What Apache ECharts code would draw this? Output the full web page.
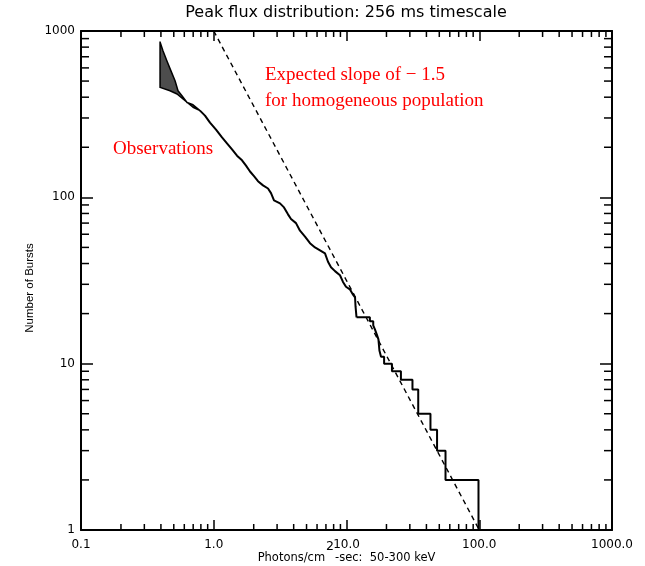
<!DOCTYPE html>
<html>
<head>
<meta charset="utf-8">
<script src="https://cdn.jsdelivr.net/npm/echarts@6/dist/echarts.min.js"></script>
<style>
  html, body { margin: 0; padding: 0; background: #fff; }
  #chart { width: 645px; height: 566px; }
</style>
</head>
<body>
<div id="chart"></div>
<script>
// Integral peak-flux distribution N(>S) on the 256 ms timescale

const xTickLabels = ['0.1', '1.0', '10.0', '100.0', '1000.0'];
const yTickLabels = ['1', '10', '100', '1000'];

// Observed counts where the burst population is dense (many tiny steps, traced as a path)
const obsFluxDense = [0.788, 0.859, 0.937, 1.04, 1.154, 1.258, 1.373, 1.497, 1.633, 1.75,
                      1.876, 2.01, 2.154, 2.35, 2.563, 2.70, 2.844, 3.156, 3.382, 3.625,
                      3.819, 4.165, 4.464, 4.869, 5.309, 5.79, 6.317, 6.887, 7.255, 7.643,
                      8.19, 8.93, 9.41, 9.91, 10.6, 11.2, 11.6, 11.7, 11.9];
const obsCountDense = [332, 310, 281, 255, 229, 211, 194, 178, 167, 155,
                       143, 134, 125, 118, 113, 106, 96, 92, 87, 79,
                       74, 70, 63, 58, 53, 50, 48, 46, 41, 38,
                       36, 34, 31, 29, 28, 26, 25, 22, 19];

// Brightest bursts: flux where each count level begins, held up to the next flux
const obsFluxBright  = [11.9, 15.0, 15.9, 16.4, 16.9, 17.4, 17.7, 18.2, 19.2, 22.0,
                        25.7, 31.4, 34.7, 42.9, 48.1, 55.7, 98.7];
const obsCountBright = [19, 18, 17, 16, 15, 14, 12, 11, 10, 9,
                        8, 7, 5, 4, 3, 2, 1];

// Shaded range near the trigger threshold (upper and lower bounds)
const bandUpperFlux  = [0.394, 0.415, 0.444, 0.476, 0.511, 0.538, 0.576, 0.629, 0.698, 0.788];
const bandUpperCount = [859, 759, 661, 576, 502, 437, 408, 372, 360, 332];
const bandLowerFlux  = [0.394, 0.468, 0.529, 0.587, 0.698, 0.788];
const bandLowerCount = [458, 437, 418, 390, 348, 332];

// Homogeneous Euclidean population, slope -1.5
const slopeFlux  = [1, 100];
const slopeCount = [1000, 1];

// Minor tick positions (2..9 within each decade)
const minorX = [];
[0.1, 1, 10, 100].forEach(d => { for (let m = 2; m <= 9; m++) minorX.push(+(d * m).toPrecision(3)); });
const minorY = [];
[1, 10, 100].forEach(d => { for (let m = 2; m <= 9; m++) minorY.push(d * m); });

const AXIS_FONT = 'DejaVu Sans';
const BLACK = '#000';
const RED = '#ff0000';

function xLabel(v) {
  const i = Math.round(Math.log10(v)) + 1;
  return xTickLabels[i] !== undefined ? xTickLabels[i] : '';
}
function yLabel(v) {
  const i = Math.round(Math.log10(v));
  return yTickLabels[i] !== undefined ? yTickLabels[i] : '';
}

const baseX = {
  type: 'log', logBase: 10, min: 0.1, max: 1000, splitNumber: 4,
  axisLine: { show: true, lineStyle: { color: BLACK, width: 2 } },
  axisTick: { show: true, inside: true, length: 10, lineStyle: { color: BLACK, width: 1.5 } },
  splitLine: { show: false },
  minorTick: { show: false }
};
const baseY = {
  type: 'log', logBase: 10, min: 1, max: 1000, splitNumber: 3,
  axisLine: { show: true, lineStyle: { color: BLACK, width: 2 } },
  axisTick: { show: true, inside: true, length: 12, lineStyle: { color: BLACK, width: 1.5 } },
  splitLine: { show: false },
  minorTick: { show: false }
};

const option = {
  backgroundColor: '#fff',
  animation: false,
  grid: { left: 81, top: 31, width: 531, height: 499, containLabel: false, outerBoundsMode: 'none' },
  xAxis: [
    Object.assign({}, baseX, {
      position: 'bottom',
      axisLabel: { show: true, formatter: xLabel, margin: 9, fontFamily: AXIS_FONT, fontSize: 12, color: BLACK },
      name: '{h| }{a|Photons/cm}{s|2}{a|-sec:  50-300 keV}',
      nameLocation: 'middle', nameGap: 10, nameMoveOverlap: false,
      nameTextStyle: {
        fontFamily: AXIS_FONT, fontSize: 11.5, color: BLACK,
        rich: {
          h: { lineHeight: 24, width: 0, fontSize: 1 },
          a: { fontFamily: AXIS_FONT, fontSize: 11.5, color: BLACK, lineHeight: 13, verticalAlign: 'bottom' },
          s: { fontFamily: AXIS_FONT, fontSize: 12.5, color: BLACK, lineHeight: 13, verticalAlign: 'top', padding: [0, 1, 0, 1] }
        }
      }
    }),
    Object.assign({}, baseX, { position: 'top', axisLabel: { show: false } })
  ],
  yAxis: [
    Object.assign({}, baseY, {
      position: 'left',
      axisLabel: { show: true, formatter: yLabel, margin: 6, fontFamily: AXIS_FONT, fontSize: 12, color: BLACK }
    }),
    Object.assign({}, baseY, { position: 'right', axisLabel: { show: false } })
  ],
  graphic: [
    { type: 'text', x: 346, y: 13, style: { text: 'Peak flux distribution: 256 ms timescale', fill: BLACK, font: '16px "DejaVu Sans"', align: 'center', verticalAlign: 'middle' } },
    { type: 'text', x: 30, y: 288, rotation: Math.PI / 2, style: { text: 'Number of Bursts', fill: BLACK, font: '11.5px "Liberation Sans"', align: 'center', verticalAlign: 'middle' } },
    { type: 'text', x: 265, y: 75, style: { text: 'Expected slope of \u2212 1.5', fill: RED, font: '19px "Liberation Serif"', verticalAlign: 'middle' } },
    { type: 'text', x: 265, y: 101, style: { text: 'for homogeneous population', fill: RED, font: '19px "Liberation Serif"', verticalAlign: 'middle' } },
    { type: 'text', x: 113, y: 149, style: { text: 'Observations', fill: RED, font: '19px "Liberation Serif"', verticalAlign: 'middle' } }
  ],
  series: [
    {
      // shaded band between the two estimates near threshold
      type: 'custom', coordinateSystem: 'cartesian2d', xAxisIndex: 0, yAxisIndex: 0,
      data: [[bandUpperFlux[0], bandUpperCount[0]]], silent: true, z: 3,
      renderItem: function (params, api) {
        const pts = [];
        for (let i = 0; i < bandUpperFlux.length; i++) pts.push(api.coord([bandUpperFlux[i], bandUpperCount[i]]));
        for (let i = bandLowerFlux.length - 1; i >= 0; i--) pts.push(api.coord([bandLowerFlux[i], bandLowerCount[i]]));
        return { type: 'polygon', shape: { points: pts }, style: { fill: '#4d4d4d', stroke: BLACK, lineWidth: 1.5, lineJoin: 'round' } };
      }
    },
    {
      name: 'Observations', type: 'line',
      data: obsFluxDense.map((s, i) => [s, obsCountDense[i]]),
      showSymbol: false, symbol: 'none', silent: true, z: 4,
      lineStyle: { color: BLACK, width: 2 }
    },
    {
      name: 'Observations (bright)', type: 'line', step: 'end',
      data: obsFluxBright.map((s, i) => [s, obsCountBright[i]]),
      showSymbol: false, symbol: 'none', silent: true, z: 4,
      lineStyle: { color: BLACK, width: 2 }
    },
    {
      name: 'Slope -1.5', type: 'line',
      data: slopeFlux.map((s, i) => [s, slopeCount[i]]),
      showSymbol: false, symbol: 'none', silent: true, z: 4,
      lineStyle: { color: BLACK, width: 1.4, type: [5, 4] }
    },
    {
      // minor ticks on all four sides of the frame
      type: 'custom', coordinateSystem: 'cartesian2d', xAxisIndex: 0, yAxisIndex: 0,
      data: [[1, 1]], silent: true, clip: false, z: 6,
      renderItem: function (params, api) {
        const st = { stroke: BLACK, lineWidth: 1.5 };
        const kids = [];
        minorX.forEach(v => {
          const b = api.coord([v, 1]), t = api.coord([v, 1000]);
          kids.push({ type: 'line', shape: { x1: b[0], y1: b[1], x2: b[0], y2: b[1] - 6 }, style: st });
          kids.push({ type: 'line', shape: { x1: t[0], y1: t[1], x2: t[0], y2: t[1] + 6 }, style: st });
        });
        minorY.forEach(v => {
          const l = api.coord([0.1, v]), r = api.coord([1000, v]);
          kids.push({ type: 'line', shape: { x1: l[0], y1: l[1], x2: l[0] + 8, y2: l[1] }, style: st });
          kids.push({ type: 'line', shape: { x1: r[0], y1: r[1], x2: r[0] - 8, y2: r[1] }, style: st });
        });
        return { type: 'group', children: kids };
      }
    }
  ]
};

const chart = echarts.init(document.getElementById('chart'), null, { renderer: 'canvas' });
chart.setOption(option);
</script>
</body>
</html>
